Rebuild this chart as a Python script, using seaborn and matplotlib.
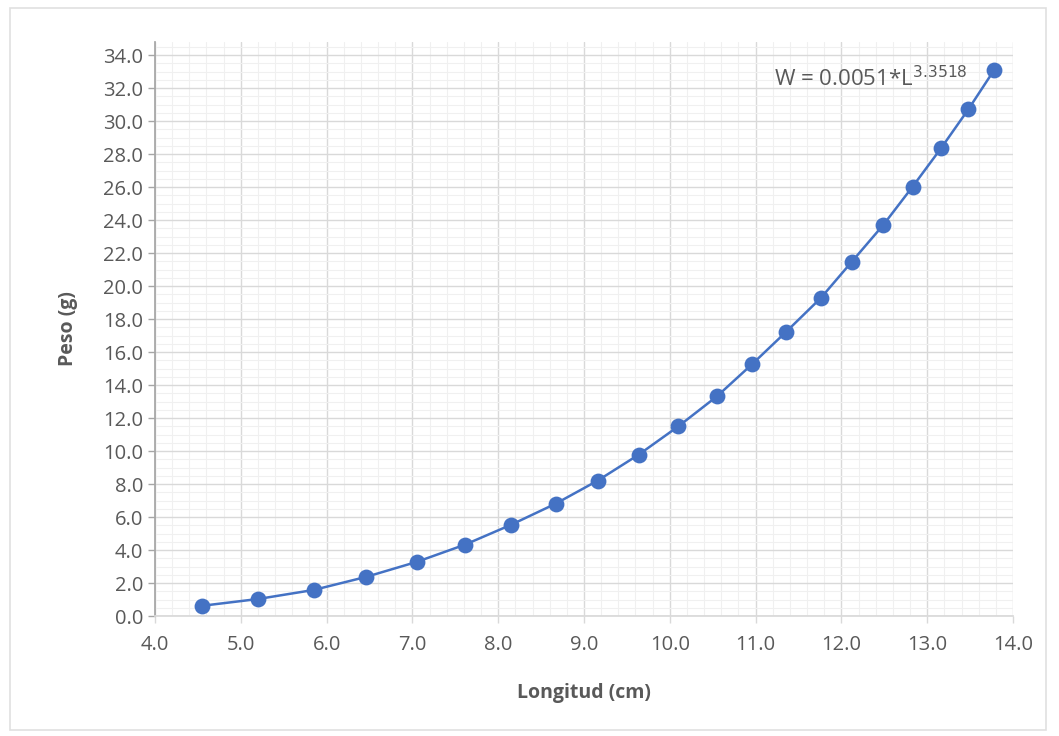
import matplotlib
matplotlib.use("Agg")
import matplotlib.pyplot as plt
import seaborn as sns
import pandas as pd
from matplotlib.ticker import MultipleLocator, FormatStrFormatter
from matplotlib.patches import Rectangle

longitud = [4.55, 5.20, 5.85, 6.46, 7.05, 7.61, 8.15, 8.67, 9.16, 9.64, 10.10,
            10.55, 10.96, 11.35, 11.76, 12.12, 12.49, 12.83, 13.16, 13.48, 13.78]
peso = [0.62, 1.03, 1.58, 2.37, 3.28, 4.32, 5.53, 6.81, 8.21, 9.79, 11.50,
        13.32, 15.27, 17.20, 19.28, 21.47, 23.72, 26.03, 28.35, 30.72, 33.10]
equation = "W = 0.0051*L$^{3.3518}$"
x_label = "Longitud (cm)"
y_label = "Peso (g)"

df = pd.DataFrame({"Longitud": longitud, "Peso": peso})

sns.set_theme(style="white")
plt.rcParams["font.family"] = ["Open Sans", "DejaVu Sans"]

fig = plt.figure(figsize=(10.59, 7.36), dpi=100)
ax = fig.add_axes([155/1059, 1 - 616/736, (1013-155)/1059, (616-42)/736])

blue = "#4472C4"
sns.lineplot(data=df, x="Longitud", y="Peso", ax=ax, color=blue, linewidth=1.8, zorder=3)
sns.scatterplot(data=df, x="Longitud", y="Peso", ax=ax, color=blue, s=130,
                edgecolor=blue, linewidth=0, zorder=4)

ax.set_xlim(4, 14)
ax.set_ylim(0, 34.8)
ax.xaxis.set_major_locator(MultipleLocator(1))
ax.xaxis.set_minor_locator(MultipleLocator(0.2))
ax.yaxis.set_major_locator(MultipleLocator(2))
ax.yaxis.set_minor_locator(MultipleLocator(0.5))
ax.set_yticks([v * 2 for v in range(18)])
ax.xaxis.set_major_formatter(FormatStrFormatter("%.1f"))
ax.yaxis.set_major_formatter(FormatStrFormatter("%.1f"))

ax.grid(which="major", color="#D9D9D9", linewidth=1.0)
ax.grid(which="minor", color="#F0F0F0", linewidth=0.8)
ax.set_axisbelow(True)

for s in ["top", "right"]:
    ax.spines[s].set_visible(False)
ax.spines["left"].set_color("#A6A6A6")
ax.spines["bottom"].set_color("#D9D9D9")
ax.tick_params(axis="both", which="major", labelsize=14.5, labelcolor="#595959",
               color="#A6A6A6", length=5, width=1)
ax.tick_params(axis="x", which="major", pad=9, color="#D9D9D9")
ax.tick_params(axis="both", which="minor", length=0)
ax.yaxis.set_ticks_position("left")
ax.xaxis.set_ticks_position("bottom")

ax.set_xlabel(x_label, fontsize=14, fontweight="bold", color="#595959", labelpad=20)
ax.set_ylabel(y_label, fontsize=14, fontweight="bold", color="#595959", labelpad=18)

ax.text(0.722, 0.937, equation, transform=ax.transAxes, fontsize=16, color="#595959",
        ha="left", va="center")

fig.patches.append(Rectangle((10/1059, 1 - 730/736), (1046-10)/1059, (730-8)/736,
                             transform=fig.transFigure, fill=False,
                             edgecolor="#E0E0E0", linewidth=1.2))

fig.savefig("out.png", dpi=100)
